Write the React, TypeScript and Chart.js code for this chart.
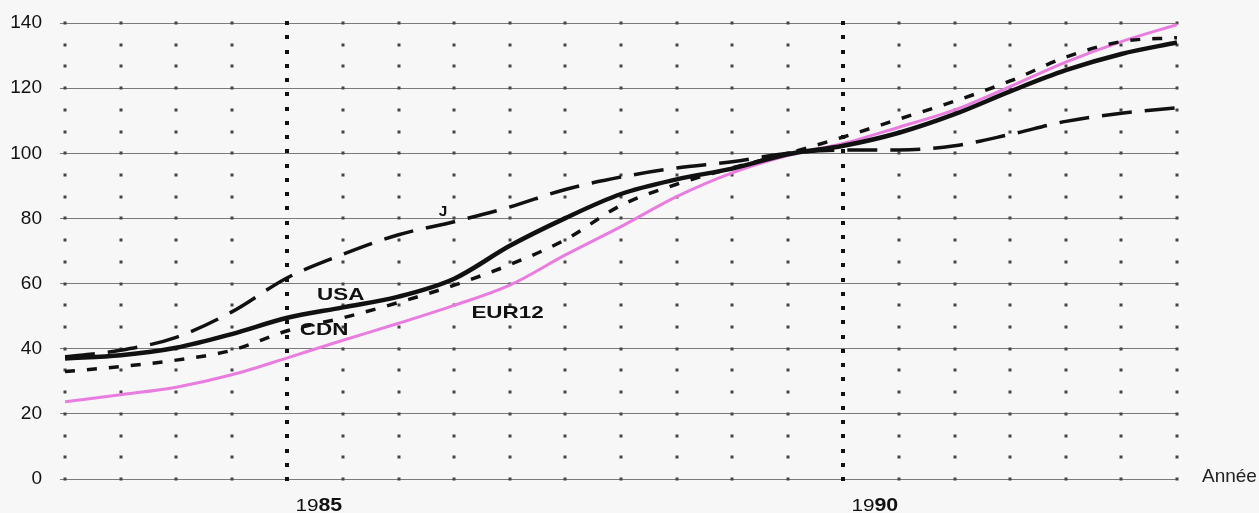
import React, { useEffect, useRef } from "react";
import { Chart, registerables } from "chart.js";

Chart.register(...registerables);

const years = [1983, 1983.5, 1984, 1984.5, 1985, 1985.5, 1986, 1986.5, 1987, 1987.5, 1988, 1988.5, 1989, 1989.5, 1990, 1990.5, 1991, 1991.5, 1992, 1992.5, 1993];
const usa = [37.0, 38.0, 40.3, 44.5, 49.5, 52.7, 56.0, 61.5, 71.6, 80.1, 87.5, 92.0, 95.3, 99.7, 102.3, 106.3, 112.0, 119.0, 125.5, 130.5, 134.0];
const cdn = [33.0, 34.5, 36.5, 39.5, 45.5, 49.5, 54.2, 59.5, 65.8, 73.5, 84.0, 90.5, 95.5, 100.0, 105.0, 110.5, 116.0, 122.2, 129.5, 134.3, 135.5];
const jpn = [37.5, 39.5, 43.5, 51.3, 61.8, 69.0, 75.0, 79.0, 83.5, 88.9, 92.7, 95.5, 97.4, 100.0, 101.0, 101.0, 102.3, 105.8, 109.8, 112.3, 114.0];
const eur12 = [23.7, 25.9, 28.2, 32.0, 37.2, 42.6, 47.8, 53.3, 59.5, 68.8, 77.5, 86.7, 94.0, 99.3, 103.0, 108.0, 113.3, 120.5, 128.0, 134.3, 139.5];

const yTicks = [0, 20, 40, 60, 80, 100, 120, 140];
const markedYears = [1985, 1990];
const seriesLabels = ["USA", "CDN", "J", "EUR12"];
const labelYears = [1985.48, 1985.33, 1986.4, 1986.98];
const labelValues = [56.3, 45.8, 81.8, 50.8];
const axisTitle = "Année";

const FONT = '"Liberation Sans", Arial, Helvetica, sans-serif';

const decorPlugin = {
  id: "decor",
  beforeDraw(chart: any) {
    const ctx = chart.ctx;
    ctx.save();
    ctx.fillStyle = "#f7f7f7";
    ctx.fillRect(0, 0, chart.width, chart.height);
    ctx.restore();
  },
  beforeDatasetsDraw(chart: any) {
    const ctx = chart.ctx;
    const xs = chart.scales.x;
    const ys = chart.scales.y;
    ctx.save();
    ctx.fillStyle = "#454545";
    for (const yr of years) {
      if (markedYears.includes(yr)) continue;
      const px = Math.round(xs.getPixelForValue(yr));
      for (let k = 0; k <= 21; k++) {
        const py = Math.round(ys.getPixelForValue((k * 20) / 3));
        ctx.fillRect(px - 1.5, py - 1.5, 3, 3);
      }
    }
    ctx.fillStyle = "#111";
    for (const yr of markedYears) {
      const px = Math.round(xs.getPixelForValue(yr));
      for (let k = 0; k <= 32; k++) {
        const py = Math.round(ys.getPixelForValue((k * 140) / 32));
        ctx.fillRect(px - 2, py - 2, 4, 4);
      }
    }
    ctx.restore();
  },
  afterDatasetsDraw(chart: any) {
    const ctx = chart.ctx;
    const xs = chart.scales.x;
    const ys = chart.scales.y;
    ctx.save();
    ctx.fillStyle = "#111";
    seriesLabels.forEach((t, i) => {
      const cx = xs.getPixelForValue(labelYears[i]);
      const cy = ys.getPixelForValue(labelValues[i]);
      ctx.save();
      ctx.translate(cx, cy);
      ctx.scale(t === "J" ? 1.1 : 1.32, 1);
      ctx.font = `bold ${t === "J" ? 14 : 17}px ${FONT}`;
      ctx.textAlign = "center";
      ctx.textBaseline = "middle";
      ctx.fillText(t, 0, 0);
      ctx.restore();
    });
    const by = ys.getPixelForValue(0) + 32;
    markedYears.forEach((yr) => {
      const s = String(yr);
      const a = s.slice(0, 2);
      const b = s.slice(2);
      ctx.save();
      ctx.translate(xs.getPixelForValue(yr) + 8, by);
      ctx.scale(1.22, 1);
      ctx.textAlign = "left";
      ctx.textBaseline = "alphabetic";
      ctx.font = `17px ${FONT}`;
      ctx.fillText(a, 0, 0);
      const w = ctx.measureText(a).width;
      ctx.font = `bold 17.5px ${FONT}`;
      ctx.fillText(b, w, 0);
      ctx.restore();
    });
    ctx.font = `19px ${FONT}`;
    ctx.textAlign = "left";
    ctx.textBaseline = "alphabetic";
    ctx.fillStyle = "#222";
    ctx.fillText(axisTitle, chart.chartArea.right + 25, ys.getPixelForValue(0) + 3);
    ctx.restore();
  },
};

export default function App() {
  const ref = useRef<HTMLCanvasElement | null>(null);
  useEffect(() => {
    document.body.style.margin = "0";
    document.body.style.background = "#f7f7f7";
    const mk = (vals: number[]) => years.map((x, i) => ({ x, y: vals[i] }));
    const chart = new Chart(ref.current as HTMLCanvasElement, {
      type: "line",
      data: {
        datasets: [
          { label: "USA", data: mk(usa), borderColor: "#111", borderWidth: 4.5, pointRadius: 0, cubicInterpolationMode: "monotone", order: 1 },
          { label: "CDN", data: mk(cdn), borderColor: "#111", borderWidth: 3.5, borderDash: [10, 12], pointRadius: 0, cubicInterpolationMode: "monotone", order: 2 },
          { label: "J", data: mk(jpn), borderColor: "#111", borderWidth: 3.5, borderDash: [30, 13], pointRadius: 0, cubicInterpolationMode: "monotone", order: 3 },
          { label: "EUR12", data: mk(eur12), borderColor: "#e97ddf", borderWidth: 3, pointRadius: 0, cubicInterpolationMode: "monotone", order: 4 },
        ],
      },
      options: {
        animation: false,
        responsive: true,
        maintainAspectRatio: false,
        layout: { autoPadding: false, padding: { top: 23, right: 82, bottom: 34, left: 0 } },
        plugins: { legend: { display: false }, tooltip: { enabled: false } },
        scales: {
          x: { type: "linear", min: 1983, max: 1993, display: false },
          y: {
            min: 0,
            max: 140,
            afterFit: (s: any) => { s.width = 65; s.paddingTop = 0; s.paddingBottom = 0; },
            afterBuildTicks: (s: any) => { s.ticks = yTicks.map((v) => ({ value: v })); },
            border: { display: false },
            grid: { color: "#7a7a7a", lineWidth: 1, tickLength: 5, drawTicks: true },
            ticks: { color: "#111", padding: 18, font: { family: FONT, size: 19 } },
          },
        },
      },
      plugins: [decorPlugin],
    } as any);
    return () => chart.destroy();
  }, []);
  return (
    <div style={{ position: "fixed", left: 0, top: 0, width: 1259, height: 513 }}>
      <canvas ref={ref} />
    </div>
  );
}
